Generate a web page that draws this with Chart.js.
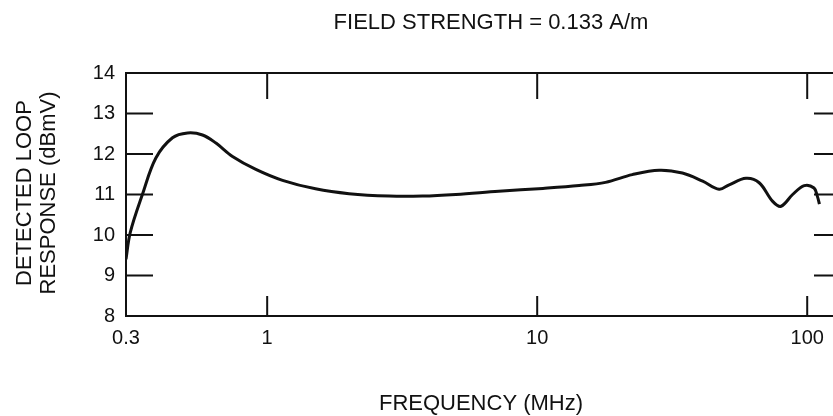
<!DOCTYPE html>
<html>
<head>
<meta charset="utf-8">
<script src="https://cdn.jsdelivr.net/npm/chart.js@4"></script>
<style>
  html, body { margin: 0; padding: 0; background: #fff; }
  #wrap { width: 833px; height: 416px; position: relative; }
</style>
</head>
<body>
<div id="wrap"><canvas id="loopChart" width="833" height="416"></canvas></div>
<script>
// frequency (MHz) and detected loop response (dBmV)
const freqs = [0.3, 0.311, 0.345, 0.387, 0.446, 0.507, 0.576, 0.646, 0.744, 0.908,
  1.14, 1.51, 2.01, 2.83, 3.76, 5.0, 7.2, 10.5, 14.3, 17.9,
  22.5, 28.3, 34.5, 41, 47.2, 51.4, 59.3, 66.4, 74.5, 80,
  88.3, 97.5, 106, 109, 111];
const response = [9.4, 10.06, 11.0, 11.9, 12.4, 12.52, 12.47, 12.27, 11.94, 11.62,
  11.35, 11.14, 11.02, 10.96, 10.96, 11.0, 11.08, 11.15, 11.22, 11.3,
  11.49, 11.6, 11.53, 11.33, 11.13, 11.24, 11.4, 11.29, 10.83, 10.71,
  11.0, 11.22, 11.16, 10.96, 10.76];

const xTicks = [0.3, 1, 10, 100];
const xTickLabels = ["0.3", "1", "10", "100"];
const yInnerTicks = [9, 10, 11, 12, 13];
const majorX = [1, 10, 100];

const FONT = "'Liberation Sans', Arial, sans-serif";
const INK = "#111";

const frame = {
  id: "frame",
  afterDraw(chart) {
    const { ctx, chartArea: a, scales } = chart;
    const x = scales.x, y = scales.y;
    ctx.save();
    ctx.strokeStyle = INK;
    ctx.lineWidth = 2;
    ctx.beginPath();
    // top border
    ctx.moveTo(a.left, a.top);
    ctx.lineTo(a.right, a.top);
    // inner ticks on left and right sides
    yInnerTicks.forEach((v) => {
      const py = y.getPixelForValue(v);
      ctx.moveTo(a.left, py);
      ctx.lineTo(a.left + 27, py);
      ctx.moveTo(a.right, py);
      ctx.lineTo(a.right - 19, py);
    });
    // top and bottom inner ticks on decades
    majorX.forEach((v) => {
      const px = x.getPixelForValue(v);
      ctx.moveTo(px, a.top);
      ctx.lineTo(px, a.top + 26);
      ctx.moveTo(px, a.bottom);
      ctx.lineTo(px, a.bottom - 20);
    });
    ctx.stroke();

    // x tick labels
    ctx.fillStyle = INK;
    ctx.font = "20px " + FONT;
    ctx.textAlign = "center";
    ctx.textBaseline = "middle";
    xTicks.forEach((v, i) => {
      ctx.fillText(xTickLabels[i], x.getPixelForValue(v), a.bottom + 22);
    });

    // titles
    ctx.font = "22px " + FONT;
    ctx.fillText("FIELD STRENGTH = 0.133 A/m", 491, 23);
    ctx.fillText("FREQUENCY (MHz)", 481, 404);

    ctx.translate(37, 193);
    ctx.rotate(-Math.PI / 2);
    ctx.fillText("DETECTED LOOP", 0, -12);
    ctx.fillText("RESPONSE (dBmV)", 0, 12);
    ctx.restore();
  },
};

const ctx = document.getElementById("loopChart").getContext("2d");
new Chart(ctx, {
  type: "line",
  data: {
    datasets: [
      {
        data: freqs.map((f, i) => ({ x: f, y: response[i] })),
        borderColor: INK,
        borderWidth: 3,
        pointRadius: 0,
        tension: 0.35,
        fill: false,
      },
    ],
  },
  options: {
    responsive: false,
    animation: false,
    layout: { padding: { left: 0, top: 73, right: 0, bottom: 0 } },
    scales: {
      x: {
        type: "logarithmic",
        min: 0.3,
        max: 124.6,
        grid: { display: false, drawTicks: false },
        border: { display: true, color: INK, width: 2 },
        ticks: { display: false },
        afterFit: (s) => { s.height = 100; },
      },
      y: {
        min: 8,
        max: 14,
        grid: { display: false, drawTicks: false },
        border: { display: true, color: INK, width: 2 },
        ticks: {
          stepSize: 1,
          color: INK,
          padding: 11,
          font: { family: FONT, size: 20 },
        },
        afterFit: (s) => { s.width = 126; },
      },
    },
    plugins: {
      legend: { display: false },
      tooltip: { enabled: false },
    },
  },
  plugins: [frame],
});
</script>
</body>
</html>
